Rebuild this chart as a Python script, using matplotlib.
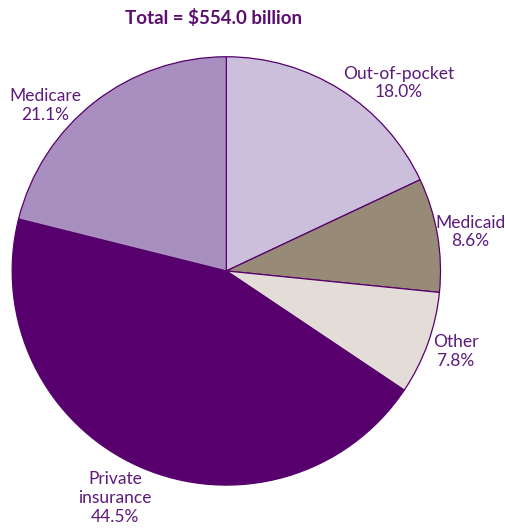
import matplotlib.pyplot as plt

labels = ['Out-of-pocket', 'Medicaid', 'Other', 'Private\ninsurance', 'Medicare']
shares = [18.0, 8.6, 7.8, 44.5, 21.1]
colors = ['#cbbfdb', '#978b77', '#e4ddd7', '#57006d', '#a98fbf']
title = 'Total = $554.0 billion'

# label centres in pie radius units (centre = 0,0)
label_pos = [(0.805, 0.877), (1.14, 0.181), (1.07, -0.377), (-0.52, -1.06), (-0.847, 0.772)]

txt = '#5c1a7c'
plt.rcParams['font.family'] = ['Lato', 'DejaVu Sans']

fig = plt.figure(figsize=(5.06, 5.29), dpi=100)
ax = fig.add_axes([0, 0, 1, 1])
ax.pie(shares, colors=colors, startangle=90, counterclock=False, radius=1.0,
       wedgeprops=dict(edgecolor='#57006d', linewidth=0.9))
ax.set_xlim(-1.056, 1.305)
ax.set_ylim(-1.205, 1.265)
ax.set_aspect('equal')
ax.axis('off')

for lab, val, (x, y) in zip(labels, shares, label_pos):
    ax.text(x, y, f'{lab}\n{val:.1f}%', ha='center', va='center', color=txt,
            fontsize=12.5, linespacing=1.2)

ax.text(-0.06, 1.18, title, ha='center', va='center', color='#5a0f70',
        fontsize=13.5, fontweight='bold')

fig.savefig('out.png', dpi=100)
